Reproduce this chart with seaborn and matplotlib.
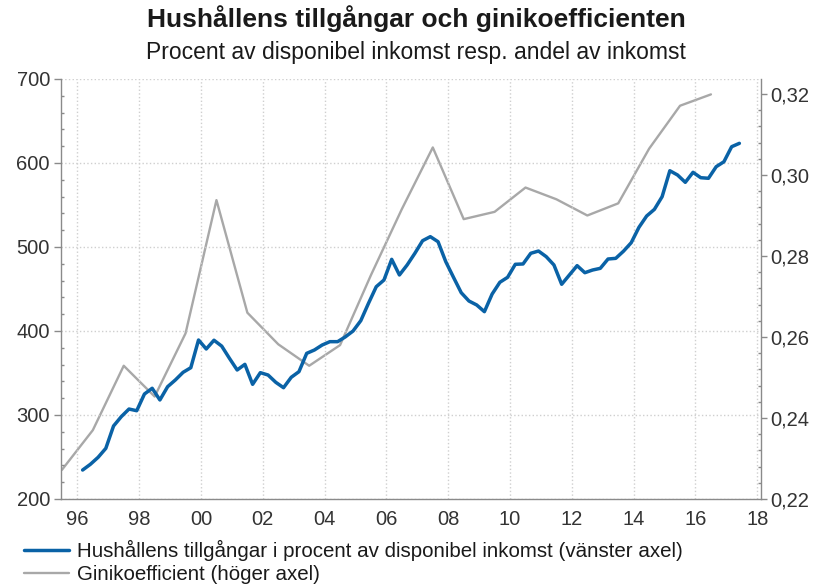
import numpy as np
import pandas as pd
import matplotlib
matplotlib.use("Agg")
import matplotlib.pyplot as plt
import seaborn as sns
from matplotlib.ticker import MultipleLocator, FixedLocator, FuncFormatter

# ---------------- data ----------------
title = "Hushållens tillgångar och ginikoefficienten"
subtitle = "Procent av disponibel inkomst resp. andel av inkomst"
assets_label = "Hushållens tillgångar i procent av disponibel inkomst (vänster axel)"
gini_label = "Ginikoefficient (höger axel)"

# quarterly, 1996 Q1 .. 2017 Q2
assets_first_year = 1996
assets = [
    234.5, 241.3, 249.6, 260.3,
    286.9, 298.0, 307.1, 305.1,
    325.0, 331.8, 317.9, 333.7,
    341.7, 350.8, 356.3, 389.3,
    378.6, 389.0, 382.0, 367.5,
    353.6, 360.3, 336.5, 350.4,
    347.6, 338.9, 332.5, 344.9,
    351.6, 373.4, 377.4, 383.3,
    387.3, 387.3, 393.0, 400.0,
    412.3, 433.0, 452.7, 460.7,
    485.3, 466.7, 478.6, 492.5,
    507.5, 512.3, 506.3, 482.5,
    463.9, 445.6, 435.7, 431.0,
    423.0, 444.0, 458.0, 463.9,
    479.4, 479.8, 492.5, 495.2,
    488.5, 478.6, 455.6, 466.7,
    477.8, 469.4, 472.6, 474.6,
    485.7, 486.5, 495.0, 505.1,
    523.4, 536.9, 544.8, 559.9,
    590.8, 585.7, 577.0, 588.9,
    582.5, 581.8, 595.6, 601.5,
    619.4, 623.4,
]

# annual, 1995 .. 2016
gini_years = list(range(1995, 2017))
gini = [
    0.2272, 0.2370, 0.2529, 0.2453, 0.2609, 0.2938, 0.2660, 0.2582,
    0.2529, 0.2580, 0.2753, 0.2916, 0.3068, 0.2891, 0.2909, 0.2969,
    0.2940, 0.2900, 0.2930, 0.3065, 0.3171, 0.3199,
]

x_tick_years = list(range(1996, 2019, 2))
left_ticks = [200, 300, 400, 500, 600, 700]
right_ticks = [0.22, 0.24, 0.26, 0.28, 0.30, 0.32]

# ---------------- frames ----------------
df_assets = pd.DataFrame({
    "t": assets_first_year + 0.17 + 0.25 * np.arange(len(assets)),
    "v": assets,
})
df_gini = pd.DataFrame({"t": np.array(gini_years) + 0.5, "v": gini})

# ---------------- style ----------------
sns.set_style("white")
plt.rcParams["font.family"] = ["Liberation Sans", "DejaVu Sans"]

blue = "#0A62A6"
gray = "#A8A8A8"
axis_gray = "#8A8A8A"
text_col = "#333333"

W, H = 821, 587
fig = plt.figure(figsize=(W / 100, H / 100), dpi=100)
ax = fig.add_axes([61 / W, (H - 499) / H, 699.7 / W, 420 / H])
ax2 = ax.twinx()

sns.lineplot(data=df_gini, x="t", y="v", ax=ax2, color=gray, lw=1.7,
             label=gini_label, legend=False)
sns.lineplot(data=df_assets, x="t", y="v", ax=ax, color=blue, lw=2.5,
             label=assets_label, legend=False)

ax.set_zorder(ax2.get_zorder() + 1)
ax.patch.set_visible(False)

ax.set_xlim(1995.47, 2018.11)
ax.set_ylim(200, 700)
ax2.set_ylim(0.22, 0.3237)

ax.set_xlabel("")
ax.set_ylabel("")
ax2.set_ylabel("")

ax.xaxis.set_major_locator(FixedLocator(x_tick_years))
ax.xaxis.set_minor_locator(MultipleLocator(0.25))
ax.xaxis.set_major_formatter(FuncFormatter(lambda v, p: f"{int(round(v)) % 100:02d}"))
ax.yaxis.set_major_locator(FixedLocator(left_ticks))
ax.yaxis.set_minor_locator(MultipleLocator(20))
ax2.yaxis.set_major_locator(FixedLocator(right_ticks))
ax2.yaxis.set_minor_locator(MultipleLocator(0.004))
ax2.yaxis.set_major_formatter(FuncFormatter(lambda v, p: f"{v:.2f}".replace(".", ",")))

ax.grid(True, which="major", color="#cfcfcf", linestyle=":", lw=1.0)

for a in (ax, ax2):
    a.spines["top"].set_visible(False)
    for s in ("left", "right", "bottom"):
        a.spines[s].set_color(axis_gray)
        a.spines[s].set_linewidth(1.0)
ax.spines["right"].set_visible(False)
ax2.spines["left"].set_visible(False)
ax2.spines["bottom"].set_visible(False)

fs = 14.5
ax.tick_params(axis="both", which="major", direction="out", length=5, width=1,
               color=axis_gray, labelsize=fs, labelcolor=text_col, pad=3)
ax.tick_params(axis="both", which="minor", direction="in", length=2.5, width=1,
               color=axis_gray)
ax2.tick_params(axis="y", which="major", direction="out", length=4, width=1,
                color=axis_gray, labelsize=fs, labelcolor=text_col, pad=3)
ax2.tick_params(axis="y", which="minor", direction="in", length=2.5, width=1,
                color=axis_gray)

# titles
fig.text(416 / W, 1 - 19 / H, title, ha="center", va="center",
         fontsize=19, fontweight="bold", color="#1a1a1a")
fig.text(416 / W, 1 - 53 / H, subtitle, ha="center", va="center",
         fontsize=16.5, color="#1a1a1a")

# legend
h1, l1 = ax.get_legend_handles_labels()
h2, l2 = ax2.get_legend_handles_labels()
fig.legend(h1 + h2, l1 + l2, loc="upper left",
           bbox_to_anchor=(24 / W, 1 - 540 / H), frameon=False,
           fontsize=14.8, handlelength=2.2, handletextpad=0.4,
           borderpad=0, borderaxespad=0, labelspacing=0.2,
           labelcolor="#1a1a1a")

fig.savefig("out.png", dpi=100)
